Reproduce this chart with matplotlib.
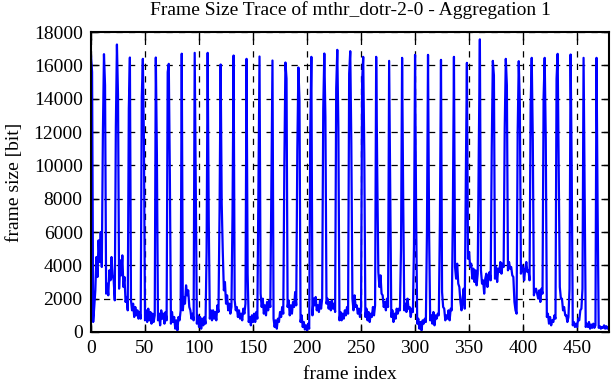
import numpy as np
import matplotlib
matplotlib.use("Agg")
import matplotlib.pyplot as plt

plt.rcParams['font.family'] = ['Liberation Serif', 'DejaVu Serif']

# frame sizes [bit], one list per GOP of 12 frames (I frame first)
gop_000 = [16600, 15600, 600, 1500, 2500, 4500, 3300, 5500, 4200, 6000, 3900, 11900]
gop_012 = [16670, 14800, 2300, 2900, 2200, 3700, 3100, 4500, 3400, 3100, 1900, 12300]
gop_024 = [17250, 14200, 2600, 4300, 3400, 4600, 2700, 3300, 1800, 2100, 1300, 13400]
gop_036 = [16470, 1900, 1300, 1700, 900, 1500, 1000, 1300, 800, 1200, 800, 14100]
gop_048 = [16390, 11400, 700, 1300, 600, 1400, 700, 1200, 500, 1100, 600, 1000]
gop_060 = [16470, 10600, 700, 1100, 400, 1300, 800, 1100, 500, 1200, 700, 15600]
gop_072 = [16090, 9400, 500, 1200, 600, 900, 200, 700, 100, 900, 700, 1300]
gop_084 = [16700, 1300, 2100, 1700, 2800, 2200, 2500, 1500, 1300, 800, 1100, 700]
gop_096 = [16750, 8600, 500, 1000, 300, 900, 200, 800, 400, 900, 500, 4800]
gop_108 = [16750, 6700, 800, 1300, 700, 1300, 800, 1200, 700, 1600, 1200, 7200]
gop_120 = [16050, 7700, 4800, 2500, 3000, 1700, 2200, 1300, 1700, 1100, 1500, 7000]
gop_132 = [16590, 1900, 1300, 1500, 900, 1300, 800, 1100, 700, 1400, 1100, 1700]
gop_144 = [16390, 3500, 600, 900, 400, 1000, 600, 1100, 600, 1200, 800, 8300]
gop_156 = [16530, 2300, 1500, 2000, 1100, 1600, 1000, 1800, 1300, 1900, 1500, 9000]
gop_168 = [16290, 800, 300, 700, 200, 800, 600, 1200, 900, 1500, 1100, 10100]
gop_180 = [16170, 15200, 1500, 1900, 1000, 1600, 1100, 1800, 1500, 2400, 1600, 10900]
gop_192 = [15870, 13900, 600, 1000, 300, 600, 150, 400, 100, 500, 200, 12000]
gop_204 = [16510, 1000, 2000, 1600, 2100, 1300, 1600, 1200, 1900, 1400, 2000, 13400]
gop_216 = [16710, 12900, 1700, 2000, 1400, 1800, 1300, 1900, 1400, 1700, 1200, 14600]
gop_228 = [16930, 12250, 700, 1200, 700, 1100, 800, 1300, 1000, 1500, 1100, 15500]
gop_240 = [16850, 11300, 2000, 1300, 2200, 1500, 1600, 1100, 1400, 900, 1300, 15100]
gop_252 = [16510, 10700, 900, 1400, 700, 1200, 600, 1100, 900, 1500, 1000, 1600]
gop_264 = [16510, 9500, 3600, 2700, 3400, 2300, 2200, 1500, 1800, 1300, 2000, 1500]
gop_276 = [16270, 8700, 900, 1300, 600, 1100, 800, 1400, 1100, 1400, 1300, 5000]
gop_288 = [16450, 8100, 1300, 1700, 1200, 2000, 1400, 1500, 900, 1400, 1200, 5200]
gop_300 = [16630, 6900, 500, 800, 200, 600, 100, 700, 500, 800, 600, 5900]
gop_312 = [16630, 6000, 700, 1000, 500, 1200, 400, 1000, 800, 1100, 1000, 6600]
gop_324 = [16330, 2400, 1500, 1400, 700, 1000, 800, 1300, 700, 1400, 1300, 7200]
gop_336 = [16510, 3900, 3200, 4100, 2900, 2700, 1800, 1300, 2000, 2600, 1400, 9300]
gop_348 = [16150, 4400, 4800, 3900, 4100, 3200, 3800, 3000, 3700, 2800, 3500, 11000]
gop_360 = [17560, 3700, 2900, 3100, 2300, 3200, 3500, 2700, 3300, 3600, 3100, 11100]
gop_372 = [16270, 15400, 3200, 3900, 3000, 3800, 3600, 4200, 3500, 4100, 3900, 12200]
gop_384 = [16390, 14800, 3700, 4200, 3800, 3900, 3400, 3300, 1800, 1300, 1100, 12000]
gop_396 = [16250, 13700, 3500, 4000, 3800, 3100, 3800, 4200, 3600, 3700, 3100, 13600]
gop_408 = [16450, 11500, 2200, 2500, 2600, 2300, 2000, 2500, 1800, 2600, 2300, 14100]
gop_420 = [16450, 11600, 900, 1100, 500, 900, 400, 700, 600, 1000, 800, 15200]
gop_432 = [16690, 9500, 2700, 2000, 2000, 1300, 1500, 1000, 1000, 600, 900, 2600]
gop_444 = [16650, 9900, 400, 600, 300, 500, 300, 800, 700, 1300, 1400, 2600]
gop_456 = [16450, 8400, 300, 500, 300, 600, 200, 450, 250, 500, 250, 400]
gop_468 = [16450, 7400, 250, 350, 200, 300, 250, 400, 200, 350, 200, 300]

gops = [gop_000, gop_012, gop_024, gop_036, gop_048, gop_060, gop_072, gop_084,
        gop_096, gop_108, gop_120, gop_132, gop_144, gop_156, gop_168, gop_180,
        gop_192, gop_204, gop_216, gop_228, gop_240, gop_252, gop_264, gop_276,
        gop_288, gop_300, gop_312, gop_324, gop_336, gop_348, gop_360, gop_372,
        gop_384, gop_396, gop_408, gop_420, gop_432, gop_444, gop_456, gop_468]
frame_size = np.concatenate(gops)
frame_index = np.arange(len(frame_size))

x_ticks = [0, 50, 100, 150, 200, 250, 300, 350, 400, 450]
y_ticks = [0, 2000, 4000, 6000, 8000, 10000, 12000, 14000, 16000, 18000]

fig = plt.figure(figsize=(6.12, 3.82), dpi=100)
ax = fig.add_axes([0.1487, 0.1309, 0.8472, 0.7853])

ax.plot(frame_index, frame_size, color='#0000ff', linewidth=1.6)

ax.set_xlim(0, 480)
ax.set_ylim(0, 18000)
ax.set_xticks(x_ticks)
ax.set_yticks(y_ticks)
ax.grid(True, color='black', linestyle=(0, (5, 5)), linewidth=0.9)
ax.tick_params(direction='in', top=True, right=True, length=6, width=1,
               labelsize=14, pad=6)
for s in ax.spines.values():
    s.set_linewidth(1.5)

ax.set_title('Frame Size Trace of mthr_dotr-2-0 - Aggregation 1', fontsize=14, pad=12)
ax.set_xlabel('frame index', fontsize=14, labelpad=6)
ax.set_ylabel('frame size [bit]', fontsize=14, labelpad=8)

fig.savefig('out.png', dpi=100)
